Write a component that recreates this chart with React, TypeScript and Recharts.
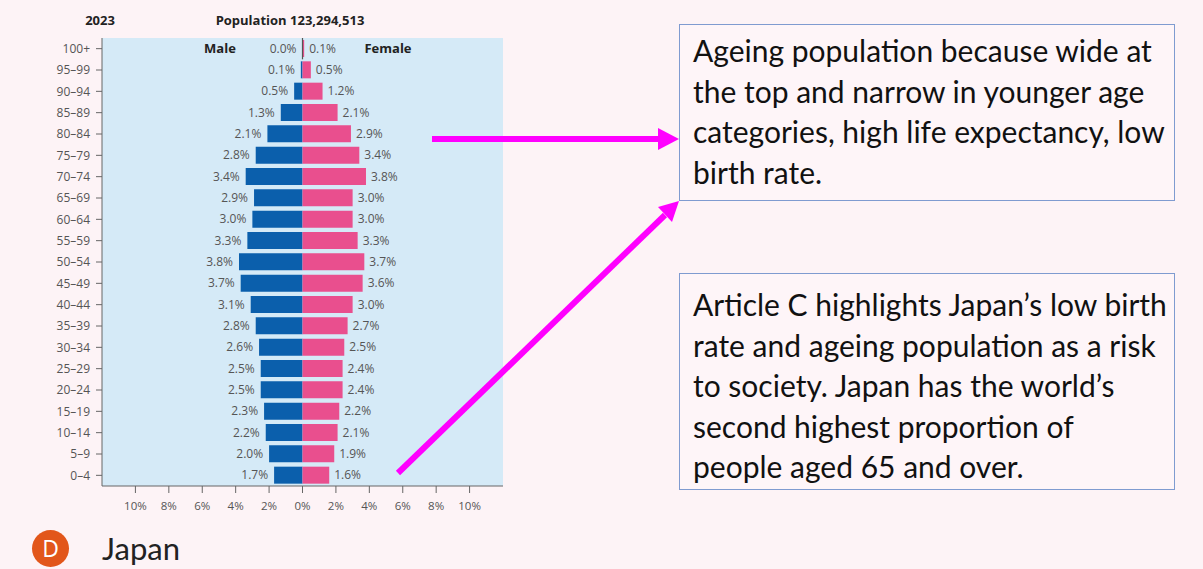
import React from 'react';
import { BarChart, Bar, XAxis, YAxis, CartesianGrid, LabelList, ReferenceLine } from 'recharts';

const ageGroups = [
  '100+', '95–99', '90–94', '85–89', '80–84', '75–79', '70–74', '65–69', '60–64', '55–59',
  '50–54', '45–49', '40–44', '35–39', '30–34', '25–29', '20–24', '15–19', '10–14', '5–9', '0–4',
];
const malePct = [0.0, 0.1, 0.5, 1.3, 2.1, 2.8, 3.4, 2.9, 3.0, 3.3, 3.8, 3.7, 3.1, 2.8, 2.6, 2.5, 2.5, 2.3, 2.2, 2.0, 1.7];
const femalePct = [0.1, 0.5, 1.2, 2.1, 2.9, 3.4, 3.8, 3.0, 3.0, 3.3, 3.7, 3.6, 3.0, 2.7, 2.5, 2.4, 2.4, 2.2, 2.1, 1.9, 1.6];
const xTicks = [-10, -8, -6, -4, -2, 0, 2, 4, 6, 8, 10];

const yearLabel = '2023';
const populationLabel = 'Population 123,294,513';
const countryLabel = 'Japan';
const note1 = [
  'Ageing population because wide at',
  'the top and narrow in younger age',
  'categories, high life expectancy, low',
  'birth rate.',
];
const note2 = [
  'Article C highlights Japan’s low birth',
  'rate and ageing population as a risk',
  'to society. Japan has the world’s',
  'second highest proportion of',
  'people aged 65 and over.',
];

const data = ageGroups.map((age, i) => ({ age, male: -malePct[i], female: femalePct[i] }));

const BLUE = '#0b5fac';
const PINK = '#e94f8e';
const PLOT_BG = '#d5eaf7';
const PAGE_BG = '#fdf3f6';
const MAGENTA = '#ff00ff';
const chartFont = '"Open Sans", "Liberation Sans", sans-serif';
const noteFont = 'Lato, "Open Sans", sans-serif';

const fmt = (v: number) => `${Math.abs(v).toFixed(1)}%`;

const MaleLabel = (props: any) => {
  const { x, y, width, height, value } = props;
  const left = Math.min(x, x + width);
  return (
    <text x={left - 6} y={y + height / 2} dy={4} textAnchor="end" fontSize={12} fill="#555" fontFamily={chartFont}>
      {fmt(value)}
    </text>
  );
};

const FemaleLabel = (props: any) => {
  const { x, y, width, height, value } = props;
  const right = Math.max(x, x + width);
  return (
    <text x={right + 5} y={y + height / 2} dy={4} textAnchor="start" fontSize={12} fill="#555" fontFamily={chartFont}>
      {fmt(value)}
    </text>
  );
};

const noteBox = (top: number, height: number, pad: number): React.CSSProperties => ({
  position: 'absolute',
  left: 679,
  top,
  width: 496,
  height,
  boxSizing: 'border-box',
  border: '1.5px solid #7f9bd0',
  background: '#fef5f8',
  padding: `${pad}px 0 0 13px`,
  fontFamily: noteFont,
  fontSize: 30,
  lineHeight: '40.5px',
  color: '#111',
  whiteSpace: 'nowrap',
});

export default function App() {
  return (
    <div style={{ position: 'absolute', left: 0, top: 0, width: 1203, height: 569, background: PAGE_BG, overflow: 'hidden' }}>
      <div style={{ position: 'absolute', left: 0, top: 0 }}>
        <BarChart
          width={520}
          height={520}
          data={data}
          layout="vertical"
          stackOffset="sign"
          barCategoryGap={2}
          margin={{ top: 38, right: 17, left: 0, bottom: 0 }}
        >
          <CartesianGrid fill={PLOT_BG} horizontal={false} vertical={false} />
          <XAxis
            type="number"
            domain={[-12, 12]}
            ticks={xTicks}
            tickFormatter={(v: number) => `${Math.abs(v)}%`}
            height={34}
            tickSize={7}
            tickMargin={9}
            axisLine={{ stroke: '#666' }}
            tickLine={{ stroke: '#666' }}
            tick={{ fontSize: 11.5, fill: '#555', fontFamily: chartFont }}
            interval={0}
          />
          <YAxis
            type="category"
            dataKey="age"
            width={102}
            tickSize={6}
            tickMargin={6}
            axisLine={{ stroke: '#666' }}
            tickLine={{ stroke: '#666' }}
            tick={{ fontSize: 12, fill: '#555', fontFamily: chartFont }}
            interval={0}
          />
          <ReferenceLine
            segment={[{ x: 0, y: ageGroups[0] }, { x: 0, y: ageGroups[1] }]}
            position="start"
            stroke="#555"
            strokeWidth={1.2}
          />
          <Bar dataKey="male" stackId="pop" fill={BLUE} minPointSize={1} isAnimationActive={false}>
            <LabelList dataKey="male" content={MaleLabel} />
          </Bar>
          <Bar dataKey="female" stackId="pop" fill={PINK} isAnimationActive={false}>
            <LabelList dataKey="female" content={FemaleLabel} />
          </Bar>
        </BarChart>
      </div>

      <div style={noteBox(24, 177, 5)}>
        {note1.map((l) => <div key={l}>{l}</div>)}
      </div>
      <div style={noteBox(273, 217, 10)}>
        {note2.map((l) => <div key={l}>{l}</div>)}
      </div>

      <div style={{ position: 'absolute', left: 32, top: 530, width: 37, height: 37, borderRadius: '50%', background: '#e2561a', color: '#fff', fontFamily: chartFont, fontSize: 23, lineHeight: '37px', textAlign: 'center' }}>
        D
      </div>
      <div style={{ position: 'absolute', left: 102, top: 530, fontFamily: noteFont, fontSize: 31, lineHeight: '37px', color: '#222' }}>
        {countryLabel}
      </div>

      <svg width={1203} height={569} style={{ position: 'absolute', left: 0, top: 0, pointerEvents: 'none' }}>
        <g fontFamily={chartFont} fontWeight="bold" fontSize={13} fill="#222" textAnchor="middle">
          <text x={100} y={25}>{yearLabel}</text>
          <text x={290} y={25}>{populationLabel}</text>
          <text x={220} y={53}>Male</text>
          <text x={388} y={53}>Female</text>
        </g>
        <line x1={432} y1={139} x2={662} y2={139} stroke={MAGENTA} strokeWidth={6} />
        <polygon points="658,128 679,139 658,150" fill={MAGENTA} />
        <line x1={398} y1={473} x2={665} y2={215} stroke={MAGENTA} strokeWidth={6} />
        <polygon points="672,222 679,201 658,207" fill={MAGENTA} />
      </svg>
    </div>
  );
}
